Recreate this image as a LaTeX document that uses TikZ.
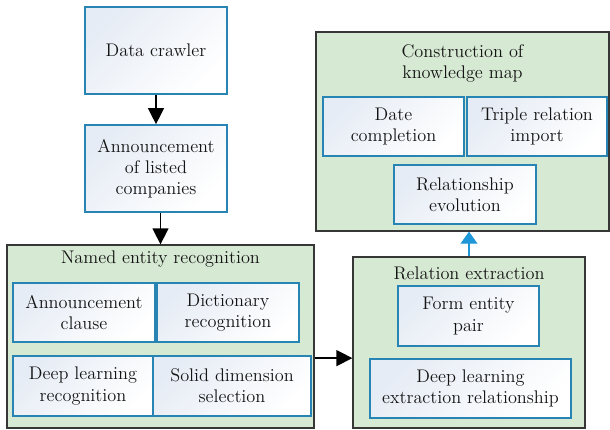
\documentclass[tikz,border=0pt]{standalone}
\usetikzlibrary{arrows.meta,positioning}

\definecolor{groupfill}{RGB}{214,233,211}
\definecolor{groupdraw}{RGB}{55,55,55}
\definecolor{stepdraw}{RGB}{40,132,178}
\definecolor{stepfill}{RGB}{230,236,245}
\definecolor{liftblue}{RGB}{30,150,215}
\definecolor{textgray}{RGB}{20,20,20}

\begin{document}
\begin{tikzpicture}[node distance=3cm, >={Triangle[length=0.4cm,width=0.4cm]}, thick,
    every node/.style={font=\fontsize{13}{15}\selectfont, text=textgray, align=center},
    group/.style={rectangle, draw=groupdraw, fill=groupfill, line width=0.9pt, inner sep=0pt},
    stepbox/.style={rectangle, draw=stepdraw, line width=1.2pt, inner sep=0pt, minimum height=1.475cm,
        top color=stepfill, bottom color=white, shading angle=45},
    flow/.style={->, line width=0.9pt, black}]
        \useasboundingbox (0,0) rectangle (15.25,-10.725);

        % Nodes
        \node[stepbox, minimum width=3.55cm, minimum height=2.175cm] (crawler) at (3.9,-1.2625) {Data crawler};
        \node[stepbox, minimum width=3.55cm, minimum height=2.175cm, below of=crawler, node distance=2.95cm] (announce) {Announcement\\of listed\\companies};

        % Named entity recognition group
        \node[group, minimum width=7.675cm, minimum height=4.575cm] (ner) at (4.0125,-8.4125) {};
        \node (nertitle) at (4.0125,-6.475) {Named entity recognition};
        \node[stepbox, minimum width=3.55cm] (clause) at (2.1,-7.8125) {Announcement\\clause};
        \node[stepbox, minimum width=3.55cm] (dict) at (5.7,-7.8125) {Dictionary\\recognition};
        \node[stepbox, minimum width=3.5cm, minimum height=1.5cm] (deeprec) at (2.075,-9.65) {Deep learning\\recognition};
        \node[stepbox, minimum width=3.95cm, minimum height=1.5cm] (solid) at (5.8,-9.65) {Solid dimension\\selection};

        % Relation extraction group
        \node[group, minimum width=5.8cm, minimum height=4.275cm] (rel) at (11.725,-8.5625) {};
        \node (reltitle) at (11.725,-6.825) {Relation extraction};
        \node[stepbox, minimum width=3.525cm, minimum height=1.5cm] (pair) at (11.7125,-7.9) {Form entity\\pair};
        \node[stepbox, minimum width=5.025cm] (deepext) at (11.7625,-9.7125) {Deep learning\\extraction relationship};

        % Knowledge map group
        \node[group, minimum width=7.325cm, minimum height=4.975cm] (kmap) at (11.5625,-3.2875) {};
        \node (kmaptitle) at (11.5625,-1.5875) {Construction of\\knowledge map};
        \node[stepbox, minimum width=3.525cm] (date) at (9.8375,-3.1625) {Date\\completion};
        \node[stepbox, minimum width=3.5cm] (triple) at (13.425,-3.1625) {Triple relation\\import};
        \node[stepbox, minimum width=3.55cm] (evol) at (11.625,-4.8625) {Relationship\\evolution};

        % Arrows
        \draw[flow] (crawler) -- (announce);
        \draw[flow] (ner.north |- announce.south) -- (ner.north);
        \draw[flow] ([yshift=-0.54cm]ner.east) -- ([yshift=-0.54cm]ner.east -| rel.west);
        \draw[->, >={Triangle[length=0.3cm,width=0.42cm]}, liftblue, line width=0.9pt] (rel.north) -- (rel.north |- kmap.south);
    \end{tikzpicture}
\end{document}
